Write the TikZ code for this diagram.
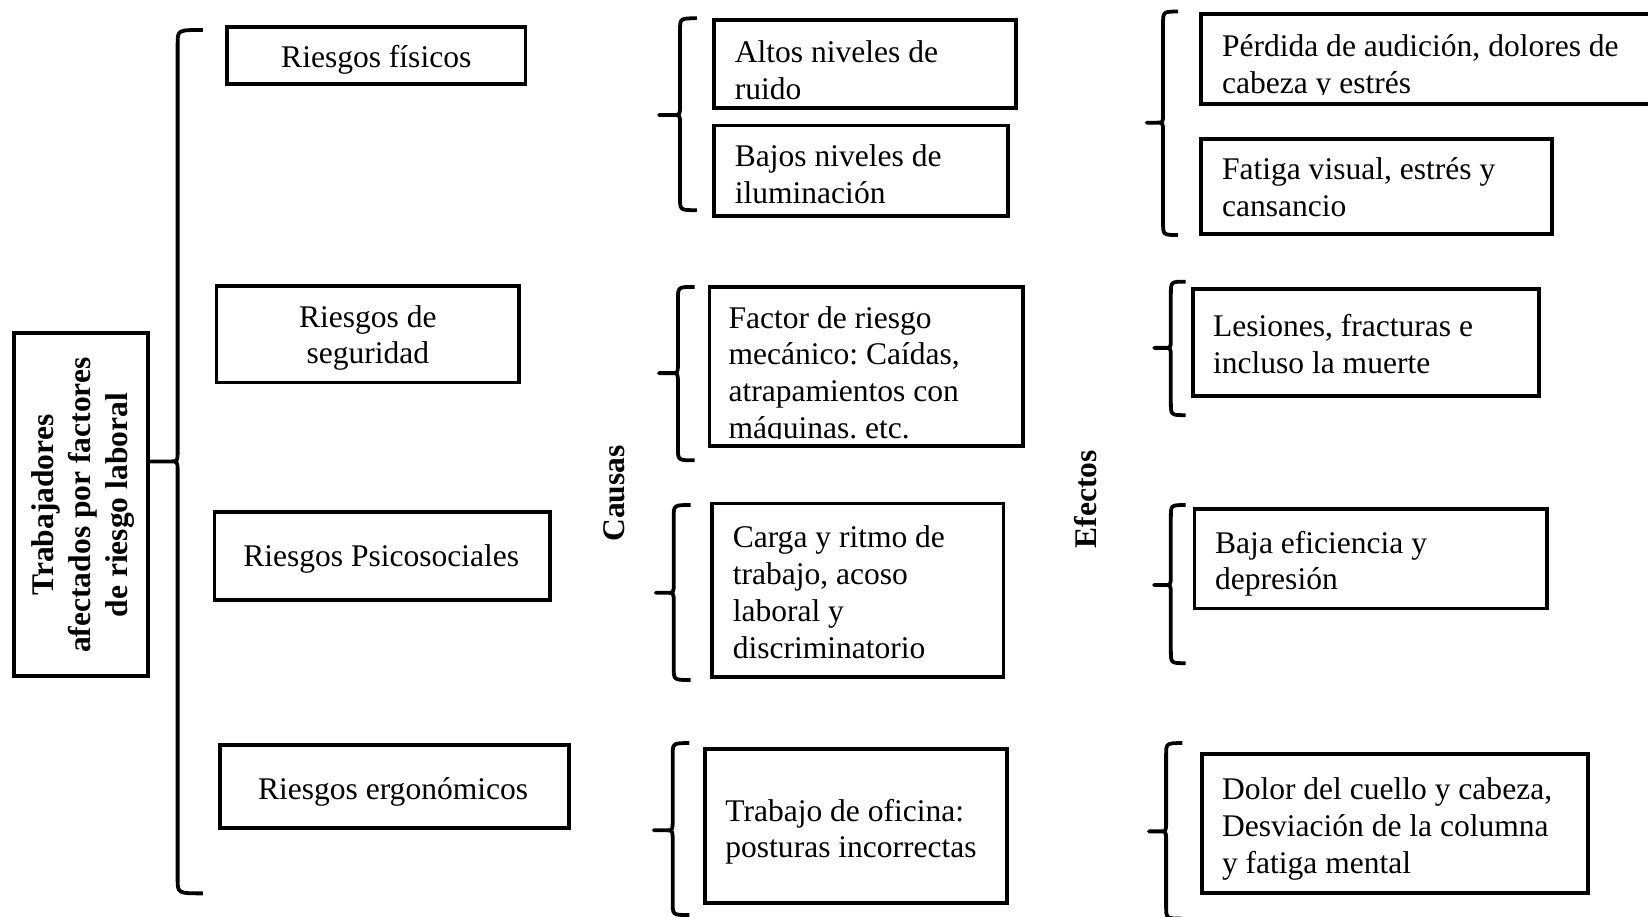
\documentclass[tikz,border=0pt]{standalone}
\usepackage{fontspec}
\setmainfont{Liberation Serif}
\frenchspacing
\newcommand\myfsz{\fontsize{30}{35}\selectfont}
\newcommand\Ln[1]{\hbox{\strut #1}}
\newcommand\mybrace[6]{%
  \draw[brc] (#6,#2) .. controls (#1,#2) .. (#1,#2+12) -- (#1,#3-9)
     .. controls (#1,#3) .. (#1-6,#3) -- (#5,#3) -- (#1-6,#3)
     .. controls (#1,#3) .. (#1,#3+9) -- (#1,#4-12) .. controls (#1,#4) .. (#6,#4);}
\begin{document}
\frenchspacing
\begin{tikzpicture}[x=1pt,y=-1pt,
  box/.style={draw, line width=3.6pt, rectangle, inner sep=0pt},
  txt/.style={inner sep=0pt, anchor=north west, font=\myfsz\frenchspacing},
  ctxt/.style={inner sep=0pt, anchor=base, font=\myfsz},
  btxt/.style={inner sep=0pt, font=\myfsz\bfseries, rotate=90, align=center},
  brc/.style={line width=3.6pt, line join=round}]
\useasboundingbox (0,0) rectangle (1568,872);

% main box
\node[box, minimum width=128pt, minimum height=326pt] (main) at (77,480) {};
\node[btxt] (maint) at (79,480.6) {Trabajadores\\afectados por factores\\de riesgo laboral};
\coordinate (maincusp) at (143,439);
\draw[brc] (193,28.5) .. controls (169,28.5) .. (169,42) -- (169,430)
   .. controls (169,439) .. (162,439) -- (maincusp) -- (162,439)
   .. controls (169,439) .. (169,448) -- (169,836) .. controls (169,850) .. (193,850);

% risk boxes
\node[box, minimum width=284pt, minimum height=54pt] (rf) at (358,53) {};
\node[ctxt] (rft) at (358,64) {Riesgos físicos};
\node[box, minimum width=288pt, minimum height=92pt] (rs) at (350,318) {};
\node[inner sep=0pt, anchor=north, font=\myfsz] (rst) at (350,286.5)
  {\vtop{\halign{\hfil#\hfil\cr\strut Riesgos de\cr\strut seguridad\cr}}};
\node[box, minimum width=319pt, minimum height=83.5pt] (rp) at (363.5,528.75) {};
\node[ctxt] (rpt) at (362.7,538.6) {Riesgos Psicosociales};
\node[box, minimum width=332pt, minimum height=79pt] (re) at (375,748.5) {};
\node[ctxt] (ret) at (374,760.7) {Riesgos ergonómicos};

% column labels
\node[btxt] (causas) at (584.5,469.5) {Causas};
\node[btxt] (efectos) at (1033,475) {Efectos};

% causes
\mybrace{647}{17.4}{109.4}{200}{627}{663}
\node[box, minimum width=287pt, minimum height=83.3pt] (c1) at (823,61) {};
\node[txt] (c1t) at (699,35.2) {\vtop{\Ln{Altos niveles de}\Ln{ruido}}};
\node[box, minimum width=279.5pt, minimum height=86.4pt] (c2) at (819.25,162.6) {};
\node[txt] (c2t) at (699,133.5) {\vtop{\Ln{Bajos niveles de}\Ln{iluminación}}};

\mybrace{645}{273}{355}{438}{627}{661}
\node[box, minimum width=298pt, minimum height=151.6pt] (c3) at (824,348.8) {};
\begin{scope}
\clip (670,270) rectangle (980,417);
\node[txt] (c3t) at (693,287.5) {\vtop{\Ln{Factor de riesgo}\Ln{mecánico: Caídas,}\Ln{atrapamientos con}\Ln{máquinas. etc.}}};
\end{scope}

\mybrace{641}{480.5}{564}{647}{624}{657}
\node[box, minimum width=277.2pt, minimum height=165pt] (c4) at (816.1,561.5) {};
\node[txt] (c4t) at (697,496.5) {\vtop{\Ln{Carga y ritmo de}\Ln{trabajo, acoso}\Ln{laboral y}\Ln{discriminatorio}}};

\mybrace{640}{707}{790}{870.6}{622}{656}
\node[box, minimum width=287pt, minimum height=146pt] (c5) at (814.5,786) {};
\node[txt] (c5t) at (690,756.5) {\vtop{\Ln{Trabajo de oficina:}\Ln{posturas incorrectas}}};

% effects
\mybrace{1106.6}{11}{116.7}{223.6}{1091}{1121}
\node[box, minimum width=447pt, minimum height=86pt] (e1) at (1366.5,56) {};
\begin{scope}
\clip (1140,10) rectangle (1600,90);
\node[txt] (e1t) at (1162.5,28.9) {\vtop{\Ln{Pérdida de audición, dolores de}\Ln{cabeza y estrés}}};
\end{scope}
\node[box, minimum width=333.6pt, minimum height=91pt] (e2) at (1309.8,177.5) {};
\node[txt] (e2t) at (1162.5,146.2) {\vtop{\Ln{Fatiga visual, estrés y}\Ln{cansancio}}};

\mybrace{1114}{268}{331}{395}{1098}{1128}
\node[box, minimum width=329.3pt, minimum height=102.3pt] (e3) at (1299.35,325.85) {};
\node[txt] (e3t) at (1154,295.3) {\vtop{\Ln{Lesiones, fracturas e}\Ln{incluso la muerte}}};

\mybrace{1114}{480.5}{556.6}{631}{1098}{1128}
\node[box, minimum width=335.4pt, minimum height=95pt] (e4) at (1304.3,531.5) {};
\node[txt] (e4t) at (1156,501.5) {\vtop{\Ln{Baja eficiencia y}\Ln{depresión}}};

\mybrace{1109.5}{707}{791}{874}{1093}{1125}
\node[box, minimum width=367.3pt, minimum height=132pt] (e5) at (1327.35,783.6) {};
\node[txt] (e5t) at (1162.5,736.1) {\vtop{\Ln{Dolor del cuello y cabeza,}\Ln{Desviación de la columna}\Ln{y fatiga mental}}};
\end{tikzpicture}
\end{document}
